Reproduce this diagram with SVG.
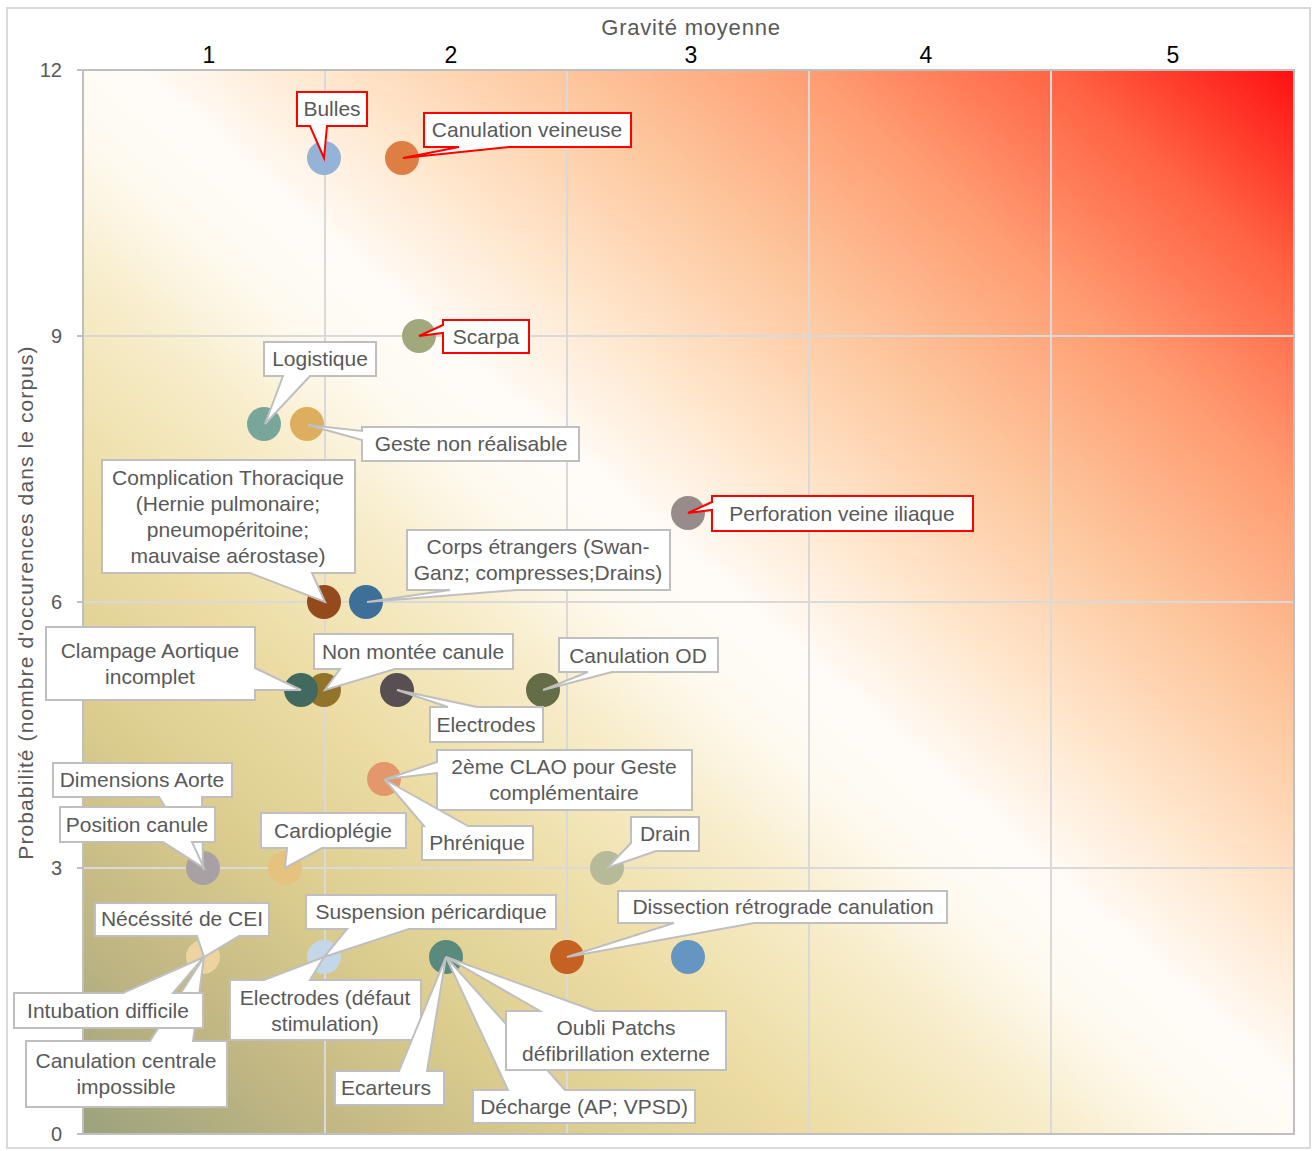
<svg xmlns="http://www.w3.org/2000/svg" width="1314" height="1151" viewBox="0 0 1314 1151">
<defs>
<linearGradient id="bg" x1="0" y1="1" x2="1" y2="0">
<stop offset="0" stop-color="#9ba27d"/>
<stop offset="0.1" stop-color="#c0b683"/>
<stop offset="0.2" stop-color="#dbcc8e"/>
<stop offset="0.3" stop-color="#ecdca3"/>
<stop offset="0.4" stop-color="#f7ecc8"/>
<stop offset="0.47" stop-color="#fefaf0"/>
<stop offset="0.52" stop-color="#fffcf8"/>
<stop offset="0.6" stop-color="#ffe6cc"/>
<stop offset="0.7" stop-color="#fdc59b"/>
<stop offset="0.8" stop-color="#ff9c72"/>
<stop offset="0.9" stop-color="#ff6444"/>
<stop offset="1" stop-color="#ff1010"/>
</linearGradient>
<style>
.lbl{font-family:"Liberation Sans",Arial,sans-serif;font-size:21px;fill:#595959;text-anchor:middle}
.ax{font-family:"Liberation Sans",Arial,sans-serif;font-size:20px;fill:#595959;text-anchor:end}
.top{font-family:"Liberation Sans",Arial,sans-serif;font-size:23px;fill:#000;text-anchor:middle}
.co{fill:#fff;stroke:#bfbfbf;stroke-width:2}
.cr{fill:#fff;stroke:#ff0000;stroke-width:2}
.grid{stroke:#d9d9d9;stroke-width:2;fill:none}
</style>
</defs>
<rect x="7" y="8" width="1303" height="1140" fill="#fff" stroke="#d9d9d9" stroke-width="2"/>
<g id="plot">
<rect x="83" y="70" width="1211" height="1064" fill="url(#bg)"/>
<path class="grid" d="M325,70V1134M567,70V1134M809,70V1134M1051,70V1134M83,336H1294M83,602H1294M83,868H1294"/>
<rect x="83" y="70" width="1211" height="1064" fill="none" stroke="#bfbfbf" stroke-width="2"/>
<path d="M77,70H83M77,336H83M77,602H83M77,868H83M77,1134H83" stroke="#bfbfbf" stroke-width="2"/>
</g>
<g id="axes">
<text class="ax" x="62" y="77">12</text>
<text class="ax" x="62" y="343">9</text>
<text class="ax" x="62" y="609">6</text>
<text class="ax" x="62" y="875">3</text>
<text class="ax" x="62" y="1141">0</text>
<text class="top" x="209" y="63">1</text>
<text class="top" x="451" y="63">2</text>
<text class="top" x="691" y="63">3</text>
<text class="top" x="926" y="63">4</text>
<text class="top" x="1173" y="63">5</text>
<text x="691" y="35" style="font-family:'Liberation Sans',Arial,sans-serif;font-size:22px;fill:#595959;text-anchor:middle;letter-spacing:0.8px">Gravité moyenne</text>
<text transform="translate(33,602.5) rotate(-90)" style="font-family:'Liberation Sans',Arial,sans-serif;font-size:21px;fill:#595959;text-anchor:middle;letter-spacing:1.1px">Probabilité (nombre d'occurences dans le corpus)</text>
</g>
<g id="points">
<circle cx="324" cy="158" r="17" fill="#95b3d7"/>
<circle cx="402" cy="158" r="17" fill="#dd7f45"/>
<circle cx="419" cy="336" r="17" fill="#a0a87c"/>
<circle cx="264" cy="424" r="17" fill="#78a69a"/>
<circle cx="307" cy="424" r="17" fill="#dcae5e"/>
<circle cx="688" cy="513" r="17" fill="#978b8b"/>
<circle cx="324" cy="602" r="17" fill="#944a1c"/>
<circle cx="366" cy="602" r="17" fill="#3e6f99"/>
<circle cx="324" cy="690" r="17" fill="#93722a"/>
<circle cx="301" cy="690" r="17" fill="#41695f"/>
<circle cx="397" cy="690" r="17" fill="#584f52"/>
<circle cx="543" cy="690" r="17" fill="#646c48"/>
<circle cx="384" cy="779" r="17" fill="#e4976b"/>
<circle cx="203" cy="868" r="17" fill="#a7a1a3"/>
<circle cx="285" cy="868" r="17" fill="#e5c27e"/>
<circle cx="607" cy="868" r="17" fill="#b5bb99"/>
<circle cx="203" cy="957" r="17" fill="#ecd39f"/>
<circle cx="324" cy="957" r="17" fill="#c4d7e8"/>
<circle cx="446" cy="957" r="17" fill="#5a8a7d"/>
<circle cx="567" cy="957" r="17" fill="#c56123"/>
<circle cx="688" cy="957" r="17" fill="#6596c1"/>
</g>
<g id="connectors"></g>
<g id="n-bulles"><path class="cr" d="M297,92H367V126H327L324,158L310,126H297Z"/><text class="lbl" x="332" y="116">Bulles</text></g>
<g id="n-canulation-veineuse"><path class="cr" d="M424,113H631V147H509L403,158L459,147H424Z"/><text class="lbl" x="527" y="137">Canulation veineuse</text></g>
<g id="n-scarpa"><path class="cr" d="M443,320H529V353H443V333L419,336L443,325Z"/><text class="lbl" x="486" y="344">Scarpa</text></g>
<g id="n-perforation"><path class="cr" d="M712,496H973V531H712V510L688,513L712,502Z"/><text class="lbl" x="842" y="521">Perforation veine iliaque</text></g>
<g id="n-logistique"><path class="co" d="M264,342H376V376H310L265,424L283,376H264Z"/><text class="lbl" x="320" y="366">Logistique</text></g>
<g id="n-geste"><path class="co" d="M362,427H579V461H362V440L308,425L362,431Z"/><text class="lbl" x="471" y="451">Geste non réalisable</text></g>
<g id="n-complication"><path class="co" d="M102,460H355V573H312L325,602L250,573H102Z"/><text class="lbl" x="228" y="485">Complication Thoracique</text><text class="lbl" x="228" y="511">(Hernie pulmonaire;</text><text class="lbl" x="228" y="537">pneumopéritoine;</text><text class="lbl" x="228" y="563">mauvaise aérostase)</text></g>
<g id="n-corps"><path class="co" d="M407,530H670V590H517L367,602L450,590H407Z"/><text class="lbl" x="538" y="554">Corps étrangers (Swan-</text><text class="lbl" x="538" y="580">Ganz; compresses;Drains)</text></g>
<g id="n-clampage"><path class="co" d="M46,627H255V668L301,690L255,690V700H46Z"/><text class="lbl" x="150" y="658">Clampage Aortique</text><text class="lbl" x="150" y="684">incomplet</text></g>
<g id="n-non-montee"><path class="co" d="M314,634H513V669H395L325,690L340,669H314Z"/><text class="lbl" x="413" y="659">Non montée canule</text></g>
<g id="n-electrodes"><path class="co" d="M430,707H448L397,690L477,707H543V742H430Z"/><text class="lbl" x="486" y="732">Electrodes</text></g>
<g id="n-canulation-od"><path class="co" d="M559,638H718V672H612L543,690L588,672H559Z"/><text class="lbl" x="638" y="663">Canulation OD</text></g>
<g id="n-clao"><path class="co" d="M437,750H692V810H437V773L386,779L437,762Z"/><text class="lbl" x="564" y="774">2ème CLAO pour Geste</text><text class="lbl" x="564" y="800">complémentaire</text></g>
<g id="n-phrenique"><path class="co" d="M422,826H424L384,779L468,826H533V860H422Z"/><text class="lbl" x="477" y="850">Phrénique</text></g>
<g id="n-dimensions"><path class="co" d="M53,763H232V797H202L203,868L159,797H53Z"/><text class="lbl" x="142" y="787">Dimensions Aorte</text></g>
<g id="n-position"><path class="co" d="M60,807H215V842H192L204,868L163,842H60Z"/><text class="lbl" x="137" y="832">Position canule</text></g>
<g id="n-cardioplegie"><path class="co" d="M261,813H406V848H322L285,868L287,848H261Z"/><text class="lbl" x="333" y="838">Cardioplégie</text></g>
<g id="n-drain"><path class="co" d="M631,817H699V851H656L607,868L631,843Z"/><text class="lbl" x="665" y="841">Drain</text></g>
<g id="n-dissection"><path class="co" d="M618,891H947V923H754L567,957L674,923H618Z"/><text class="lbl" x="783" y="914">Dissection rétrograde canulation</text></g>
<g id="n-suspension"><path class="co" d="M306,895H556V929H409L324,957L347,929H306Z"/><text class="lbl" x="431" y="919">Suspension péricardique</text></g>
<g id="n-electrodes-defaut"><path class="co" d="M230,980H264L324,957L310,980H421V1040H230Z"/><text class="lbl" x="325" y="1005">Electrodes (défaut</text><text class="lbl" x="325" y="1031">stimulation)</text></g>
<g id="n-necessite"><path class="co" d="M95,903H269V936H239L204,957L197,936H95Z"/><text class="lbl" x="182" y="926">Nécéssité de CEI</text></g>
<g id="n-canulation-centrale"><path class="co" d="M26,1041H150L204,957L193,1041H227V1107H26Z"/><text class="lbl" x="126" y="1068">Canulation centrale</text><text class="lbl" x="126" y="1094">impossible</text></g>
<g id="n-intubation"><path class="co" d="M14,993H123L204,957L173,993H203V1028H14Z"/><text class="lbl" x="108" y="1018">Intubation difficile</text></g>
<g id="n-ecarteurs"><path class="co" d="M335,1071H399L446,957L427,1071H444V1105H335Z"/><text class="lbl" x="386" y="1095">Ecarteurs</text></g>
<g id="n-decharge"><path class="co" d="M473,1090H508L446,957L565,1090H695V1123H473Z"/><text class="lbl" x="584" y="1114">Décharge (AP; VPSD)</text></g>
<g id="n-oubli"><path class="co" d="M506,1011H540L446,957L595,1011H726V1070H506Z"/><text class="lbl" x="616" y="1035">Oubli Patchs</text><text class="lbl" x="616" y="1061">défibrillation externe</text></g>
</svg>
